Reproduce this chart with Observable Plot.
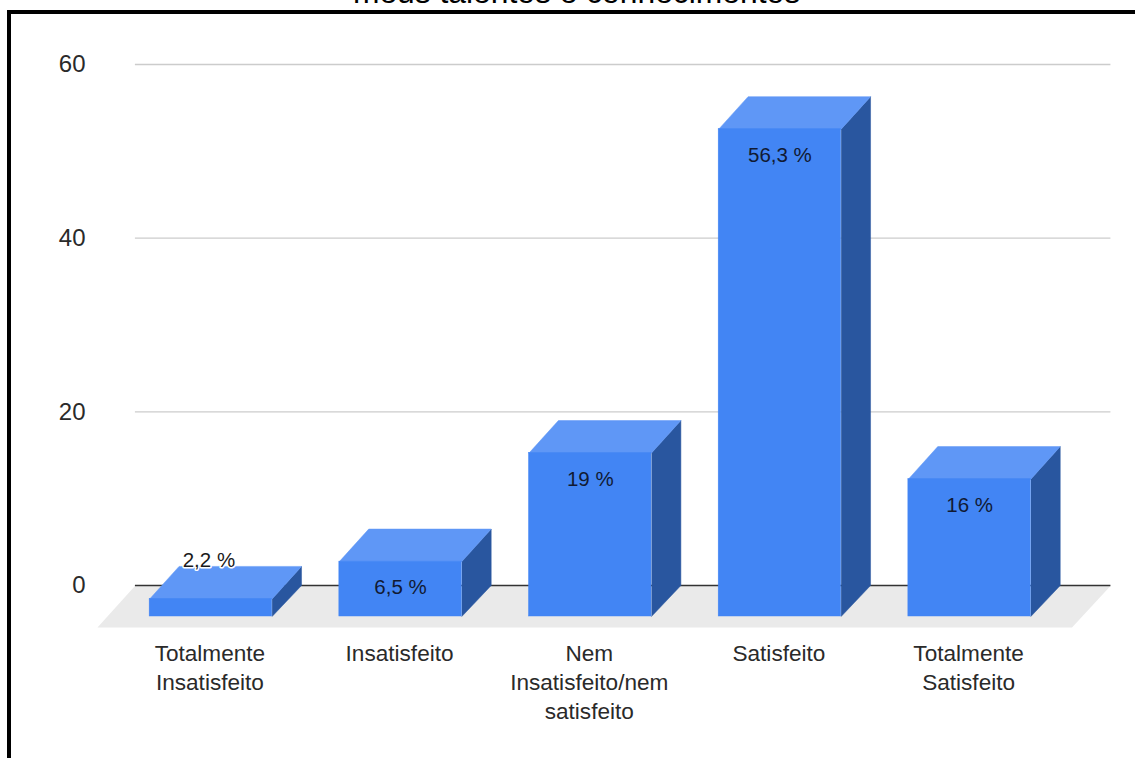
<!DOCTYPE html>
<html lang="pt">
<head>
<meta charset="utf-8">
<title>Satisfação</title>
<script src="https://cdn.jsdelivr.net/npm/d3@7"></script>
<script src="https://cdn.jsdelivr.net/npm/@observablehq/plot@0.6"></script>
<style>
  html, body { margin: 0; padding: 0; background: #fff; overflow: hidden; }
  body { width: 1135px; height: 758px; font-family: "Liberation Sans", Arial, sans-serif; }
  #heading { height: 10px; overflow: hidden; position: relative; }
  #heading span { position: absolute; left: 0; width: 1153px; text-align: center; bottom: 1.5px;
    font-size: 31.8px; line-height: 31.8px; color: #000; white-space: nowrap; }
  #panel { margin-left: 7px; border-left: 4px solid #000; border-top: 4px solid #000; height: 744px; }
  svg { display: block; }
</style>
</head>
<body>
<div id="heading"><span>meus talentos e conhecimentos</span></div>
<div id="panel"></div>
<script>
// Answers per satisfaction level, in percent
const categories = ["Totalmente\nInsatisfeito", "Insatisfeito", "Nem\nInsatisfeito/nem\nsatisfeito", "Satisfeito", "Totalmente\nSatisfeito"];
const values = [2.2, 6.5, 19, 56.3, 16];
const valueLabels = ["2,2 %", "6,5 %", "19 %", "56,3 %", "16 %"];
const yTicks = [0, 20, 40, 60];
const gridValues = [20, 40, 60];

// Box proportions in axis units: half of a bar's width, and how far its back
// face sits from its front face along each axis (the top edge recedes a bit more)
const halfWidth = 0.3228;
const depthX = 0.155;
const depthY = 3.57;
const topDepthY = 3.75;

const bars = values.map((value, i) => ({i, value, label: valueLabels[i]}));

// Faces are closed outlines; the side and top faces join the shifted front to the back
const sideFaces = bars.flatMap(({i, value}) => [
  {bar: i, u: i + halfWidth, v: -depthY},
  {bar: i, u: i + halfWidth + depthX, v: 0},
  {bar: i, u: i + halfWidth + depthX, v: value},
  {bar: i, u: i + halfWidth, v: value - topDepthY}
]);
const topFaces = bars.flatMap(({i, value}) => [
  {bar: i, u: i - halfWidth, v: value - topDepthY},
  {bar: i, u: i - halfWidth + depthX, v: value},
  {bar: i, u: i + halfWidth + depthX, v: value},
  {bar: i, u: i + halfWidth, v: value - topDepthY}
]);
const floor = [
  {u: -0.398, v: 0}, {u: 4.745, v: 0}, {u: 4.54, v: -4.84}, {u: -0.598, v: -4.84}
];

const chart = Plot.plot({
  width: 1124,
  height: 744,
  marginLeft: 74,
  marginBottom: 118,
  marginTop: 0,
  marginRight: 0,
  style: {fontFamily: "'Liberation Sans', Arial, sans-serif", background: "transparent", overflow: "visible"},
  x: {domain: [0, 4], range: [199.4, 958.1]},
  y: {domain: [0, 60], range: [571, 50]},
  marks: [
    Plot.line(floor, {x: "u", y: "v", fill: "#eaeaea", stroke: "none"}),
    Plot.ruleY(gridValues, {x1: -0.398, x2: 4.745, stroke: "#cccccc", strokeWidth: 1.4}),
    Plot.ruleY([0], {x1: -0.398, x2: 4.745, stroke: "#333333", strokeWidth: 1.4}),
    Plot.axisY({
      ticks: yTicks, anchor: "left", tickSize: 0, tickPadding: 0, label: null,
      fontSize: 24, fill: "#2a2a2a"
    }),
    Plot.axisX({
      ticks: [0, 1, 2, 3, 4], anchor: "bottom", tickSize: 0, tickPadding: 0, label: null,
      tickFormat: (i) => categories[i], lineHeight: 1.28, lineAnchor: "top",
      fontSize: 22.6, fill: "#2a2a2a", dx: -1
    }),
    Plot.line(sideFaces, {x: "u", y: "v", z: "bar", fill: "#29569f", stroke: "#29569f", strokeWidth: 0.5}),
    Plot.line(topFaces, {x: "u", y: "v", z: "bar", fill: "#5f97f6", stroke: "#5f97f6", strokeWidth: 0.5}),
    Plot.rect(bars, {
      x1: (d) => d.i - halfWidth, x2: (d) => d.i + halfWidth,
      y1: -depthY, y2: (d) => d.value - topDepthY,
      fill: "#4285f4", stroke: "#4285f4", strokeWidth: 0.5
    }),
    // Short bars carry the label above on a white halo, the others inside the front face
    Plot.text(bars.filter((d) => d.value < 5), {
      x: "i", y: "value", text: "label", dy: -6, dx: -2, fontSize: 20.5, fill: "#1a1a1a",
      stroke: "#ffffff", strokeWidth: 3
    }),
    Plot.text(bars.filter((d) => d.value >= 5), {
      x: "i", y: "value", text: "label", dy: 58.5, fontSize: 20.5, fill: "#111a33"
    })
  ]
});
document.getElementById("panel").append(chart);
</script>
</body>
</html>
